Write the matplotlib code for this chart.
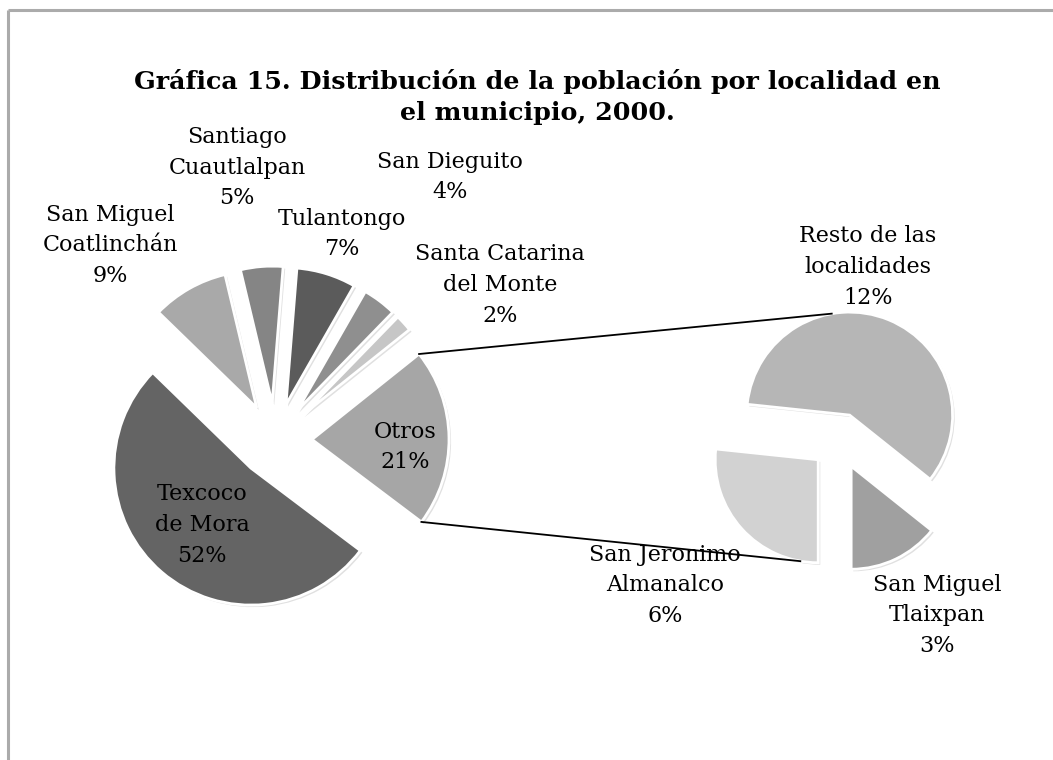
import matplotlib
matplotlib.use("Agg")
import matplotlib.pyplot as plt
from matplotlib import patheffects as pe
import numpy as np

# ---------------- data ----------------
main_labels = ["Texcoco\nde Mora", "San Miguel\nCoatlinchán", "Santiago\nCuautlalpan",
               "Tulantongo", "San Dieguito", "Santa Catarina\ndel Monte", "Otros"]
main_values = [52, 9, 5, 7, 4, 2, 21]
main_colors = ["#646464", "#a9a9a9", "#858585", "#5b5b5b", "#8f8f8f", "#c6c6c6", "#a6a6a6"]

sub_labels = ["Resto de las\nlocalidades", "San Miguel\nTlaixpan", "San Jeronimo\nAlmanalco"]
sub_values = [12.4, 3.0, 5.6]
sub_colors = ["#b6b6b6", "#a0a0a0", "#d2d2d2"]

title = "Gráfica 15. Distribución de la población por localidad en\nel municipio, 2000."

# ---------------- layout (pixel space, y measured from top) ----------------
W, H = 1053, 760
main_center = (275, 440)
main_radius = 137
main_explode = 37
sub_center = (839, 441)
sub_radius = 103
sub_explode = 28

main_label_pos = [(202, 525), (110, 245), (237, 168), (342, 234), (450, 177), (500, 285), (405, 447)]
sub_label_pos = [(868, 267), (937, 615), (665, 585)]

fig = plt.figure(figsize=(W / 100, H / 100), dpi=100)
ax = fig.add_axes([0, 0, 1, 1])

def Y(y):
    return H - y

shadow = [pe.SimplePatchShadow(offset=(1.5, -1.5), shadow_rgbFace="#000000", alpha=0.12), pe.Normal()]

wedges_main, _ = ax.pie(main_values, center=(main_center[0], Y(main_center[1])), radius=main_radius,
                        explode=[main_explode] * len(main_values), startangle=-37, counterclock=False,
                        colors=main_colors, frame=True,
                        wedgeprops=dict(edgecolor="white", linewidth=2))
wedges_sub, _ = ax.pie(sub_values, center=(sub_center[0], Y(sub_center[1])), radius=sub_radius,
                       explode=[sub_explode] * len(sub_values), startangle=174, counterclock=False,
                       colors=sub_colors, frame=True,
                       wedgeprops=dict(edgecolor="white", linewidth=2))
ax.set_xlim(0, W)
ax.set_ylim(0, H)
ax.set_aspect("equal")
ax.axis("off")
for w in list(wedges_main) + list(wedges_sub):
    w.set_path_effects(shadow)

# connector lines
def pt(w, ang):
    cx, cy = w.center
    a = np.deg2rad(ang)
    return cx + w.r * np.cos(a), cy + w.r * np.sin(a)

otros = wedges_main[-1]
p_top = pt(otros, otros.theta2)
p_bot = pt(otros, otros.theta1)
q_top = pt(wedges_sub[0], 100)
q_bot = pt(wedges_sub[2], -100)
ax.plot([p_top[0], q_top[0]], [p_top[1], q_top[1]], color="black", lw=1.3, zorder=5)
ax.plot([p_bot[0], q_bot[0]], [p_bot[1], q_bot[1]], color="black", lw=1.3, zorder=5)

font = "DejaVu Serif"
fs = 16
ls = 1.5
for lab, v, (x, y) in zip(main_labels, main_values, main_label_pos):
    ax.text(x, Y(y), f"{lab}\n{v:.0f}%", ha="center", va="center", fontsize=fs,
            family=font, linespacing=ls, zorder=6)
for lab, v, (x, y) in zip(sub_labels, sub_values, sub_label_pos):
    ax.text(x, Y(y), f"{lab}\n{v:.0f}%", ha="center", va="center", fontsize=fs,
            family=font, linespacing=ls, zorder=6)

ax.text(537, Y(97), title, ha="center", va="center", fontsize=18.3, fontweight="bold",
        family=font, linespacing=1.4, zorder=6)

# frame lines (top and left)
ax.plot([8, W], [Y(10), Y(10)], color="#ababab", lw=2.2, solid_capstyle="butt")
ax.plot([8, 8], [Y(10), 0], color="#ababab", lw=2.2, solid_capstyle="butt")

fig.savefig("out.png", dpi=100, facecolor="white")
